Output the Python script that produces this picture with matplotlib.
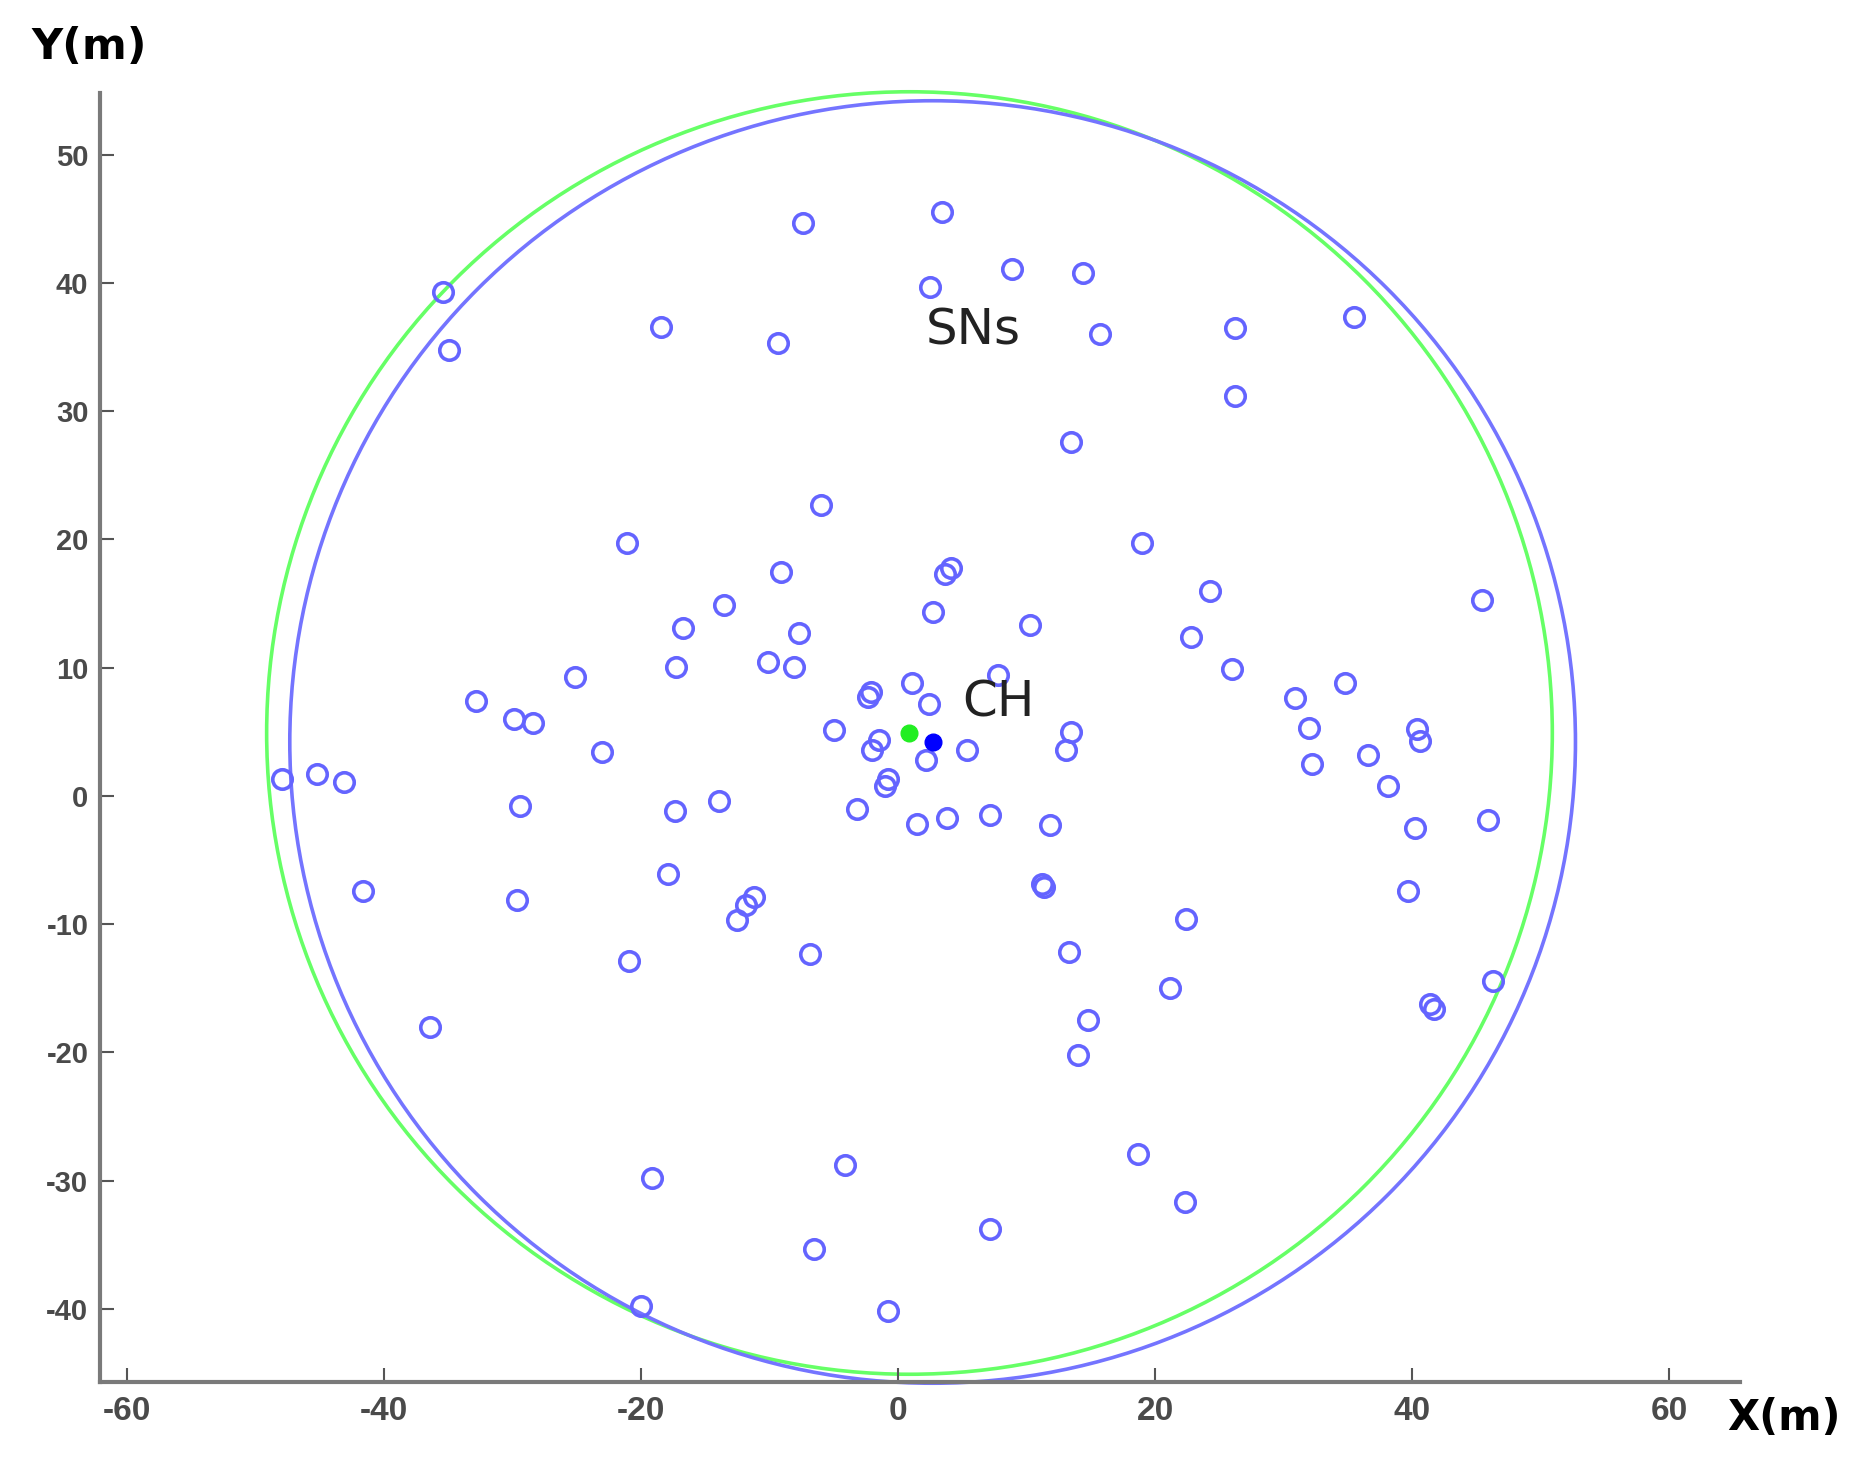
import matplotlib
matplotlib.use('Agg')
import matplotlib.pyplot as plt
from matplotlib.patches import Circle

plt.rcParams['axes.unicode_minus'] = False

# Posiciones de los nodos sensores (SNs)
sn_x = [-35.35, -34.9, -18.4, -7.4, -9.3, 3.4, 2.5, 8.9, 14.4, 15.7,
        26.2, 35.5, 26.2, 13.45, -5.95, -21.1, 18.95, -9.1, 3.7, 4.1,
        24.3, 45.4, -13.5, -16.7, -7.7, 2.7, 10.3, 22.8, -25.1, -17.25,
        -10.1, -8.1, 7.8, 26.0, -32.85, -2.3, -2.1, 1.1, 2.4, 30.9,
        34.8, -29.85, -28.4, -5.0, 13.5, 32.0, 40.4, 40.6, -1.5, -2.0,
        -23.0, 5.4, 13.1, 36.6, 32.2, -47.9, -45.2, -43.1, -0.8, -1.0,
        2.2, 38.1, -29.4, -13.9, -17.3, -3.2, 1.5, 3.8, 7.2, 11.8,
        40.2, 45.9, -41.6, -29.6, -17.9, -11.2, -11.8, -12.5, 11.2, 11.4,
        39.7, 22.4, -6.8, -20.9, 13.3, 21.2, 46.3, 41.4, 41.7, 14.8,
        -36.4, 14.0, 18.7, -4.1, -19.1, 22.3, 7.2, -6.5, -20.0, -0.8]
sn_y = [39.3, 34.8, 36.55, 44.7, 35.3, 45.5, 39.7, 41.1, 40.8, 36.0,
        36.5, 37.3, 31.15, 27.6, 22.65, 19.75, 19.75, 17.45, 17.3, 17.8,
        16.0, 15.3, 14.9, 13.1, 12.7, 14.3, 13.3, 12.4, 9.3, 10.05,
        10.45, 10.05, 9.4, 9.9, 7.4, 7.7, 8.1, 8.8, 7.2, 7.6,
        8.8, 6.0, 5.7, 5.1, 5.0, 5.3, 5.2, 4.3, 4.35, 3.6,
        3.4, 3.6, 3.6, 3.2, 2.45, 1.3, 1.7, 1.1, 1.3, 0.8,
        2.8, 0.8, -0.8, -0.4, -1.2, -1.0, -2.2, -1.7, -1.5, -2.3,
        -2.5, -1.9, -7.4, -8.1, -6.1, -7.9, -8.5, -9.7, -6.9, -7.1,
        -7.4, -9.6, -12.3, -12.9, -12.2, -15.0, -14.4, -16.25, -16.6, -17.5,
        -18.0, -20.2, -27.9, -28.8, -29.8, -31.7, -33.8, -35.3, -39.8, -40.2]

# Centros (verde y azul) y radio de cobertura
centro_verde = (0.9, 4.9)
centro_azul = (2.7, 4.2)
radio = 50

xticks = [-60, -40, -20, 0, 20, 40, 60]
yticks = [-40, -30, -20, -10, 0, 10, 20, 30, 40, 50]

fig = plt.figure(figsize=(18.6, 14.63), dpi=100)
ax = fig.add_axes([0.0535, 0.0554, 0.882, 0.881])

ax.add_patch(Circle(centro_verde, radio, fill=False, color='#66ff66', lw=2.6, clip_on=False))
ax.add_patch(Circle(centro_azul, radio, fill=False, color='#7474ff', lw=2.6, clip_on=False))

ax.plot(sn_x, sn_y, 'o', ms=14, mfc='none', mec='#6464ff', mew=2.6, clip_on=False)
ax.plot(*centro_verde, 'o', ms=12, color='#22ee22')
ax.plot(*centro_azul, 'o', ms=12, color='#0000ff')

ax.text(5.9, 36.3, 'SNs', fontsize=36, ha='center', va='center', color='#222222')
ax.text(7.85, 7.3, 'CH', fontsize=36, ha='center', va='center', color='#222222')

ax.set_xlim(-62.1, 65.5)
ax.set_ylim(-45.7, 54.8)

for s in ['top', 'right']:
    ax.spines[s].set_visible(False)
for s in ['left', 'bottom']:
    ax.spines[s].set_color('#7a7a7a')
    ax.spines[s].set_linewidth(3)

ax.set_xticks(xticks)
ax.set_yticks(yticks)
ax.tick_params(direction='in', color='#555555', length=10, width=1.5)
ax.tick_params(axis='x', pad=10)
ax.tick_params(axis='y', pad=8)
for lab in ax.get_xticklabels():
    lab.set_family(['Liberation Sans Narrow', 'Liberation Sans', 'DejaVu Sans'])
    lab.set_fontsize(24)
    lab.set_fontweight('bold')
    lab.set_color('#4a4a4a')
for lab in ax.get_yticklabels():
    lab.set_family(['Liberation Sans', 'DejaVu Sans'])
    lab.set_fontsize(21)
    lab.set_fontweight('bold')
    lab.set_color('#4a4a4a')

fig.text(0.048, 0.968, 'Y(m)', fontsize=31, fontweight='bold', ha='center', va='center')
fig.text(0.959, 0.031, 'X(m)', fontsize=30, fontweight='bold', ha='center', va='center')

fig.savefig('out.png', dpi=100)
